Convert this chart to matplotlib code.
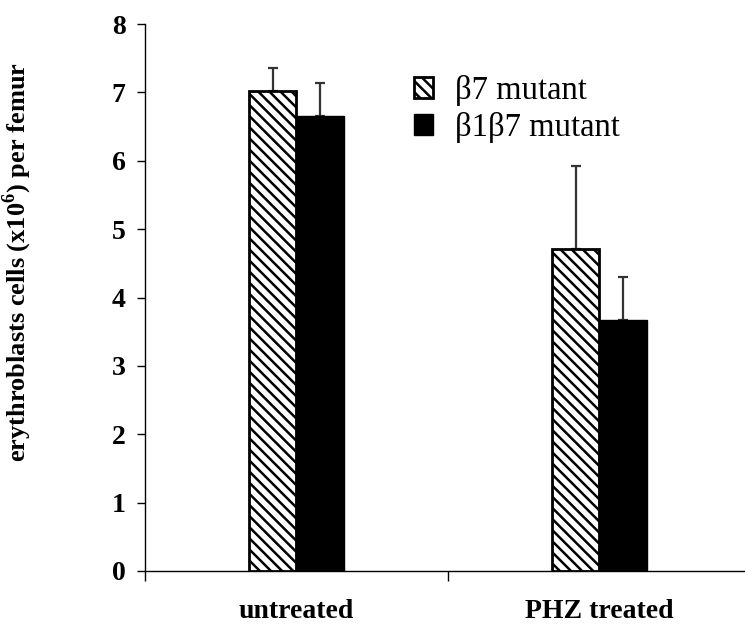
import matplotlib
matplotlib.use("Agg")
import matplotlib.pyplot as plt
import numpy as np

plt.rcParams["font.family"] = ["Liberation Serif", "DejaVu Serif"]
plt.rcParams["hatch.linewidth"] = 1.8
plt.rcParams["mathtext.fontset"] = "custom"
plt.rcParams["mathtext.rm"] = "Liberation Serif"
plt.rcParams["mathtext.bf"] = "Liberation Serif:bold"

# data
groups = ["untreated", "PHZ treated"]
series = ["\u03b27 mutant", "\u03b21\u03b27 mutant"]
b7_mean = [7.02, 4.71]
b7_err = [0.33, 1.22]
b1b7_mean = [6.66, 3.67]
b1b7_err = [0.48, 0.63]

fig = plt.figure(figsize=(7.45, 6.25), dpi=100)
ax = fig.add_axes([0.1946, 0.0864, 0.8134, 0.8752])

x = np.arange(len(groups))
w = 0.157
err_kw = dict(ecolor="#333333", elinewidth=1.6, capsize=3.5, capthick=1.6)

ax.bar(x - w / 2, b7_mean, w, color="white", edgecolor="black", linewidth=2,
       hatch="\\\\\\", label=series[0], zorder=3)
ax.errorbar(x - w / 2, b7_mean, yerr=[np.zeros(2), b7_err], fmt="none", zorder=2, **err_kw)
ax.bar(x + w / 2, b1b7_mean, w, color="black", edgecolor="black", linewidth=1,
       label=series[1], zorder=3)
ax.errorbar(x + w / 2, b1b7_mean, yerr=[np.zeros(2), b1b7_err], fmt="none", zorder=2, **err_kw)

ax.set_xlim(-0.5, 1.5)
ax.set_ylim(0, 8)
ax.set_yticks(range(0, 9))
ax.tick_params(axis="y", direction="out", length=6, width=1, labelsize=20, pad=8)
for lbl in ax.get_yticklabels():
    lbl.set_fontweight("bold")

ax.set_xticks(x)
ax.set_xticklabels(groups, fontsize=20, fontweight="bold")
ax.tick_params(axis="x", which="major", length=0, pad=20)
ax.set_xticks([-0.5, 0.5, 1.5], minor=True)
ax.tick_params(axis="x", which="minor", direction="out", length=7, width=1)

ax.spines["top"].set_visible(False)
ax.spines["right"].set_visible(False)
ax.spines["left"].set_linewidth(1)
ax.spines["bottom"].set_linewidth(1)

ax.set_ylabel(r"erythroblasts cells (x10$^{\mathbf{6}}$) per femur", fontsize=19,
              fontweight="bold")
ax.yaxis.set_label_coords(-0.183, 0.565)

ax.legend(loc="upper left", bbox_to_anchor=(0.395, 0.96), frameon=False, fontsize=23.5,
          handlelength=0.6, handleheight=0.6, handletextpad=0.65, labelspacing=0.17)

fig.savefig("out.png", dpi=100)
